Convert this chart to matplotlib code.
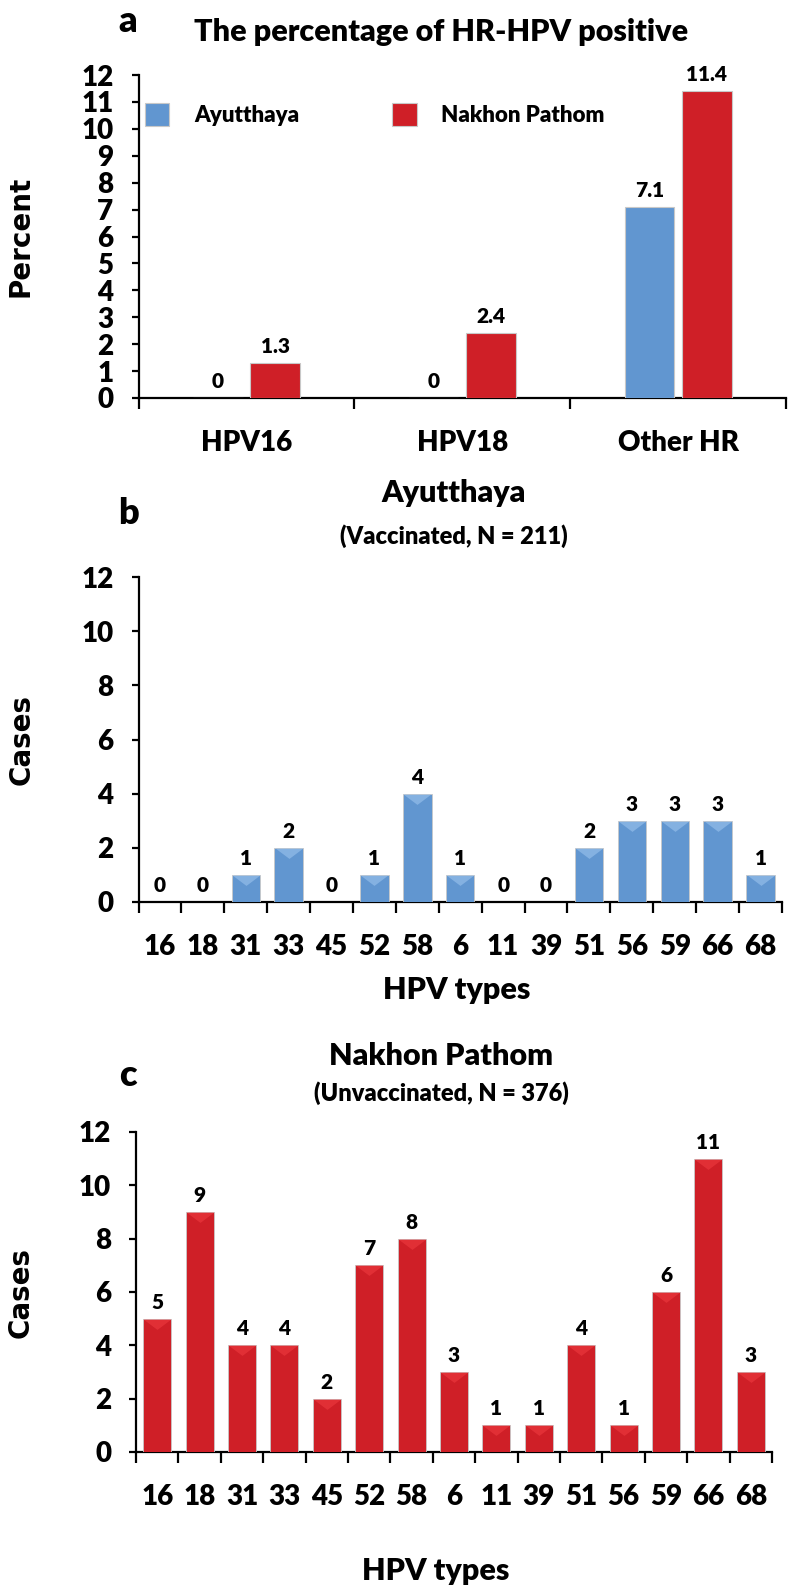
import numpy as np
import matplotlib.pyplot as plt
from matplotlib.path import Path

plt.rcParams['font.family'] = ['Lato', 'DejaVu Sans']
plt.rcParams['font.weight'] = 'heavy'
plt.rcParams['axes.labelweight'] = 'heavy'

# panel a
groups = ['HPV16', 'HPV18', 'Other HR']
pct_ayutthaya = [0, 0, 7.1]
pct_nakhon = [1.3, 2.4, 11.4]

# panels b and c
hpv_types = ['16', '18', '31', '33', '45', '52', '58', '6', '11', '39', '51', '56', '59', '66', '68']
cases_ayutthaya = [0, 0, 1, 2, 0, 1, 4, 1, 0, 0, 2, 3, 3, 3, 1]
cases_nakhon = [5, 9, 4, 4, 2, 7, 8, 3, 1, 1, 4, 1, 6, 11, 3]

BLUE = '#6196d0'
RED = '#cf1f27'
W, H = 800, 1596

# flat downward triangle, top edge at the marker centre
TRI = Path([(-1, 0), (1, 0), (0, -0.75), (-1, 0)])


def axes_px(fig, left, right, top, bottom):
    return fig.add_axes([left / W, 1 - bottom / H, (right - left) / W, (bottom - top) / H])


def style_axes(ax, n, yticks, ylabel):
    for s in ['top', 'right']:
        ax.spines[s].set_visible(False)
    ax.spines['left'].set_linewidth(1.6)
    ax.spines['bottom'].set_linewidth(1.6)
    ax.set_xlim(-0.5, n - 0.5)
    ax.set_ylim(0, yticks[-1])
    ax.set_yticks(yticks)
    ax.tick_params(axis='y', direction='out', length=5, width=1.6, pad=13, labelsize=20)
    ax.set_xticks(np.arange(n + 1) - 0.5)
    ax.tick_params(axis='x', which='major', direction='out', length=8, width=1.6, labelbottom=False)
    ax.set_xticks(np.arange(n), minor=True)
    ax.tick_params(axis='x', which='minor', length=0, pad=23, labelsize=20)
    ax.set_ylabel(ylabel, family='DejaVu Sans', fontsize=20, fontweight='bold')
    ax.yaxis.set_label_coords(-0.16, 0.5)


def bevel(ax, x, vals, color):
    # light triangular highlight on top of each bar
    xs = [xi for xi, v in zip(x, vals) if v > 0]
    ys = [v for v in vals if v > 0]
    ax.scatter(xs, ys, marker=TRI, s=400, color=color, alpha=0.6, zorder=4, linewidths=0)


fig = plt.figure(figsize=(8, 15.96), dpi=100)

# ---- a ----
ax = axes_px(fig, 138.5, 786, 75, 398)
x = np.arange(len(groups))
bw = 0.23
b1 = ax.bar(x - 0.133, pct_ayutthaya, bw, color=BLUE, edgecolor='#c8c8c8', linewidth=0.8, label='Ayutthaya', zorder=3)
b2 = ax.bar(x + 0.133, pct_nakhon, bw, color=RED, edgecolor='#c8c8c8', linewidth=0.8, label='Nakhon Pathom', zorder=3)
ax.bar_label(b1, labels=[f'{v:g}' for v in pct_ayutthaya], padding=5, fontsize=15)
ax.bar_label(b2, labels=[f'{v:g}' for v in pct_nakhon], padding=5, fontsize=15)
style_axes(ax, len(groups), np.arange(0, 13, 1), 'Percent')
ax.set_xticklabels(groups, minor=True)
ax.legend(loc='center left', bbox_to_anchor=(0.01, 0.877), ncol=2, frameon=False, fontsize=16,
          handlelength=1.1, handleheight=1.25, handletextpad=1.1, columnspacing=4.2, borderpad=0,
          borderaxespad=0)
fig.text(441 / W, 1 - 32 / H, 'The percentage of HR-HPV positive', ha='center', va='center', fontsize=22)
fig.text(128 / W, 1 - 22 / H, 'a', ha='center', va='center', fontsize=26)

# ---- b ----
ax = axes_px(fig, 138.5, 782, 577, 902)
x = np.arange(len(hpv_types))
bars = ax.bar(x, cases_ayutthaya, 0.66, color=BLUE, edgecolor='#c8c8c8', linewidth=0.6, zorder=3)
ax.bar_label(bars, padding=5, fontsize=15)
bevel(ax, x, cases_ayutthaya, '#9cc4ee')
style_axes(ax, len(hpv_types), np.arange(0, 13, 2), 'Cases')
ax.set_xticklabels(hpv_types, minor=True)
fig.text(457 / W, 1 - 990 / H, 'HPV types', ha='center', va='center', fontsize=22)
fig.text(454 / W, 1 - 493 / H, 'Ayutthaya', ha='center', va='center', fontsize=22)
fig.text(454 / W, 1 - 536 / H, '(Vaccinated, N = 211)', ha='center', va='center', fontsize=17)
fig.text(128 / W, 1 - 514 / H, 'b', ha='center', va='center', fontsize=26)

# ---- c ----
ax = axes_px(fig, 136, 772, 1132, 1452)
bars = ax.bar(x, cases_nakhon, 0.66, color=RED, edgecolor='#c8c8c8', linewidth=0.6, zorder=3)
ax.bar_label(bars, padding=5, fontsize=15)
bevel(ax, x, cases_nakhon, '#ee3a40')
style_axes(ax, len(hpv_types), np.arange(0, 13, 2), 'Cases')
ax.set_xticklabels(hpv_types, minor=True)
fig.text(436 / W, 1 - 1571 / H, 'HPV types', ha='center', va='center', fontsize=22)
fig.text(441 / W, 1 - 1056 / H, 'Nakhon Pathom', ha='center', va='center', fontsize=22)
fig.text(441 / W, 1 - 1093 / H, '(Unvaccinated, N = 376)', ha='center', va='center', fontsize=17)
fig.text(128 / W, 1 - 1076 / H, 'c', ha='center', va='center', fontsize=26)

fig.savefig('out.png', dpi=100)
